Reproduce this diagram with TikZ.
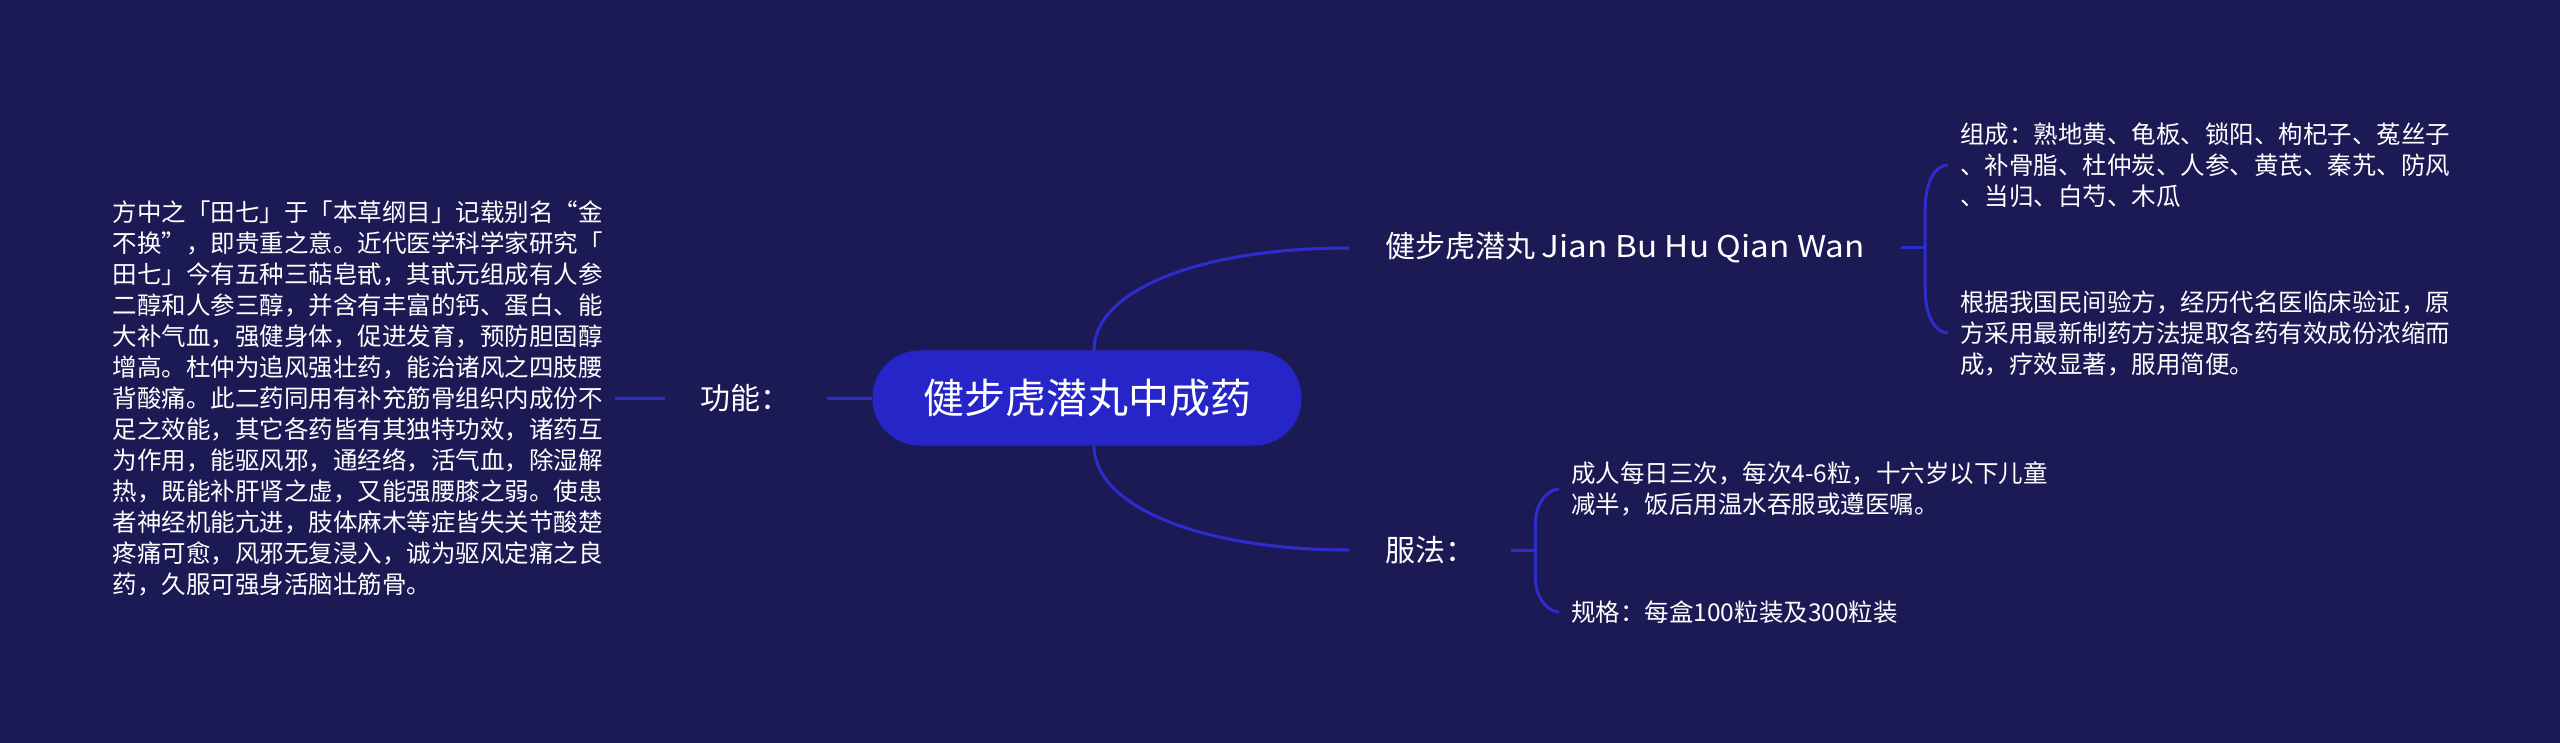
\documentclass[tikz,border=0pt]{standalone}
\usepackage{fontspec}
\usepackage{graphicx}
\setmainfont{Noto Sans CJK SC}
\usetikzlibrary{calc}
\definecolor{bg}{RGB}{27,26,84}
\definecolor{rootblue}{RGB}{38,38,200}
\definecolor{linkblue}{RGB}{45,45,205}
\begin{document}
\begin{tikzpicture}[x=1pt,y=1pt,
  conn/.style={draw=linkblue, line width=3pt},
  rootnode/.style={fill=rootblue, rounded corners=47pt, minimum width=429pt, minimum height=95pt, text=white, font=\fontsize{41}{48}\selectfont, inner sep=0pt},
  topic/.style={text=white, font=\fontsize{30}{36}\selectfont, inner xsep=36pt, inner ysep=4pt},
  leaf/.style={text=white, font=\fontsize{24.5}{31}\selectfont, align=left, inner xsep=12pt, inner ysep=2pt}
]
\fill[bg] (0,0) rectangle (2560,-743);
\useasboundingbox (0,0) rectangle (2560,-743);

\node[rootnode] (root) at (1087,-398) {健步虎潜丸中成药};
\node[topic, anchor=west] (jb) at (1349,-248) {健步虎潜丸 \scalebox{1.11}[1]{Jian Bu Hu Qian Wan}};
\node[topic, anchor=west] (ff) at (1349,-550) {服法：};
\node[topic, anchor=east] (gn) at (827,-398) {功能：};

\node[leaf, anchor=west] (c1) at (1948,-165) {组成：熟地黄、龟板、锁阳、枸杞子、菟丝子\\、补骨脂、杜仲炭、人参、黄芪、秦艽、防风\\、当归、白芍、木瓜};
\node[leaf, anchor=west] (c2) at (1948,-333) {根据我国民间验方，经历代名医临床验证，原\\方采用最新制药方法提取各药有效成份浓缩而\\成，疗效显著，服用简便。};
\node[leaf, anchor=west] (c3) at (1559,-489) {成人每日三次，每次4-6粒，十六岁以下儿童\\减半，饭后用温水吞服或遵医嘱。};
\node[leaf, anchor=west] (c4) at (1559,-612) {规格：每盒100粒装及300粒装};
\node[leaf, anchor=east] (lt) at (615,-398) {方中之「田七」于「本草纲目」记载别名“金\\不换”，即贵重之意。近代医学科学家研究「\\田七」今有五种三萜皂甙，其甙元组成有人参\\二醇和人参三醇，并含有丰富的钙、蛋白、能\\大补气血，强健身体，促进发育，预防胆固醇\\增高。杜仲为追风强壮药，能治诸风之四肢腰\\背酸痛。此二药同用有补充筋骨组织内成份不\\足之效能，其它各药皆有其独特功效，诸药互\\为作用，能驱风邪，通经络，活气血，除湿解\\热，既能补肝肾之虚，又能强腰膝之弱。使患\\者神经机能亢进，肢体麻木等症皆失关节酸楚\\疼痛可愈，风邪无复浸入，诚为驱风定痛之良\\药，久服可强身活脑壮筋骨。};

\draw[conn] ([xshift=7pt]root.north) .. controls +(0,60) and +(-150,0) .. (jb.west);
\draw[conn] ([xshift=7pt]root.south) .. controls +(0,-60) and +(-150,0) .. (ff.west);
\draw[conn] (root.west) -- (gn.east);
\draw[conn] (gn.west) -- (lt.east);

\draw[conn] (jb.east) -- ++(24,0) coordinate (jbk);
\draw[conn] (jbk) -- ($(jbk|-c1.west)+(0,-45)$) .. controls ($(jbk|-c1.west)+(0,-12)$) and ($(c1.west)+(-10,0)$) .. (c1.west);
\draw[conn] (jbk) -- ($(jbk|-c2.west)+(0,45)$) .. controls ($(jbk|-c2.west)+(0,12)$) and ($(c2.west)+(-10,0)$) .. (c2.west);

\draw[conn] (ff.east) -- ++(24,0) coordinate (ffk);
\draw[conn] (ffk) -- ($(ffk|-c3.west)+(0,-35)$) .. controls ($(ffk|-c3.west)+(0,-10)$) and ($(c3.west)+(-8,0)$) .. (c3.west);
\draw[conn] (ffk) -- ($(ffk|-c4.west)+(0,35)$) .. controls ($(ffk|-c4.west)+(0,10)$) and ($(c4.west)+(-8,0)$) .. (c4.west);
\end{tikzpicture}
\end{document}
